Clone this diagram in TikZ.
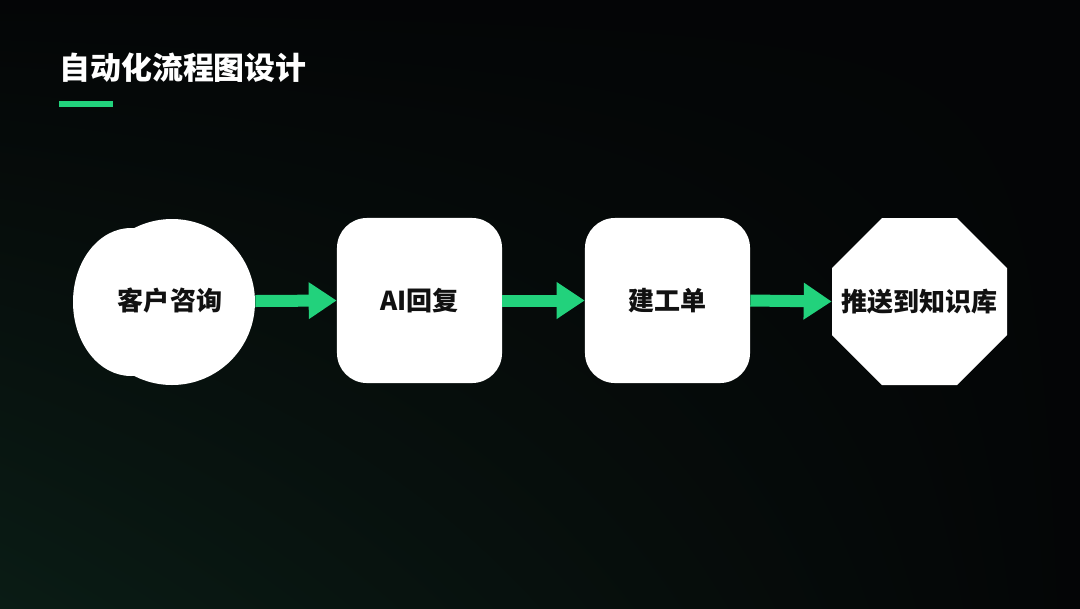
\documentclass[tikz,border=0pt]{standalone}
\usepackage{fontspec}
\newfontfamily\cjk{Noto Sans CJK SC}
\usetikzlibrary{arrows.meta,shadings}
\definecolor{bgdark}{HTML}{040506}
\definecolor{bgglow}{HTML}{0A1C15}
\definecolor{accent}{HTML}{22D27C}
\definecolor{ink}{HTML}{111111}
\tikzset{
  flowtxt/.style={font=\cjk\bfseries\fontsize{18.5}{22}\selectfont, text=ink},
  roundbox/.style={flowtxt, fill=white, rounded corners=0.75cm, minimum width=4.125cm, minimum height=4.125cm, inner sep=0pt},
  flowarrow/.style={draw=accent, line width=0.3cm, -{Triangle[length=0.7cm,width=0.875cm,fill=accent]}}
}
\begin{document}
\begin{tikzpicture}[x=0.025cm,y=-0.025cm]
\useasboundingbox (0,0) rectangle (1080,608);
\shade[upper left=bgdark, upper right=bgdark, lower right=bgdark, lower left=bgglow] (0,0) rectangle (1080,608);
% title
\node[anchor=west, inner sep=0pt, text=white, font=\cjk\bfseries\fontsize{22}{26}\selectfont] (title) at (59,68) {自动化流程图设计};
\fill[accent] (59,101) rectangle (113,107);
% blob (union of two round shapes)
\fill[white] (172,302) circle[radius=83];
\fill[white] (131,302) ellipse[x radius=58, y radius=74];
\node[flowtxt, circle, minimum size=4.25cm, inner sep=0pt] (cons) at (170,301) {客户咨询};
\node[roundbox] (ai) at (419.5,300.5) {AI回复};
\node[roundbox] (ticket) at (667.5,300.5) {建工单};
% octagon
\fill[white] (882,218) -- (957,218) -- (1007,268) -- (1007,335) -- (957,385) -- (882,385) -- (832,335) -- (832,268) -- cycle;
\node[flowtxt, minimum width=4.375cm, minimum height=4.175cm, inner sep=0pt] (kb) at (919.5,301.5) {推送到知识库};
\draw[flowarrow] (cons.east) -- (ai.west);
\draw[flowarrow] (ai.east) -- (ticket.west);
\draw[flowarrow] (ticket.east) -- (kb.west);
\end{tikzpicture}
\end{document}
